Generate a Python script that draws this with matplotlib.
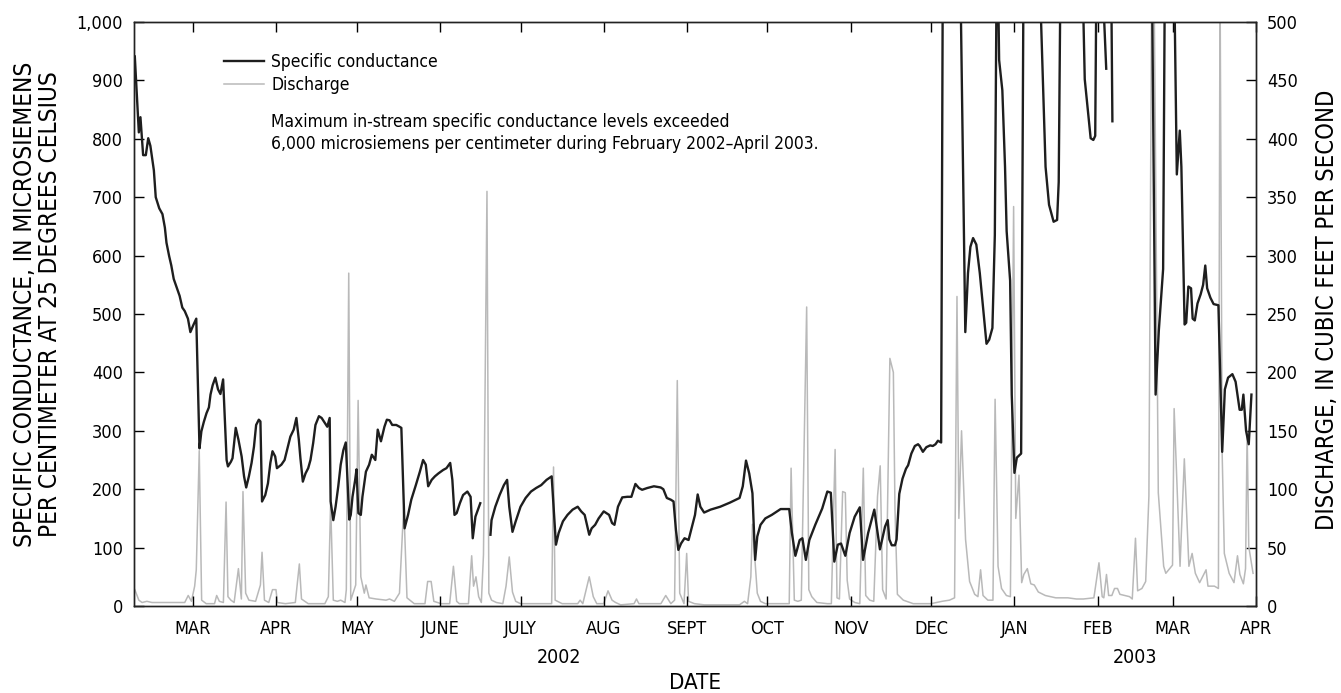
from datetime import datetime
import numpy as np
import matplotlib
matplotlib.use("Agg")
from matplotlib import pyplot as plt
import matplotlib.dates as mdates
from matplotlib.ticker import FuncFormatter, MultipleLocator
from matplotlib.transforms import blended_transform_factory

# days counted from 1 March 2002
base = datetime(2002, 3, 1)
nan = float("nan")

cond_day = [-21.7, -20.2, -19.6, -18.6, -17.6, -16.7, -15.9, -14.6, -13.9, -12.6, -11.4, -10.5,
            -9.9, -8.9, -8.1, -7.2, -6.2, -5.0, -4.0, -3.1, -1.9, -1.0, 0.2, 1.2,
            2.4, 3.1, 4.0, 5.0, 5.9, 6.5, 7.3, 8.3, 9.3, 10.2, 11.2, 12.5, 13.0, 14.1, 14.7,
            15.9, 16.9, 18.1, 19.0, 19.8, 20.8, 21.8, 22.7, 23.5, 24.5, 25.1, 25.7, 26.9,
            27.9, 28.8, 29.6, 30.6, 31.25, 32.9, 34.1, 35.0, 36.25, 37.5, 38.5, 39.4, 40.0,
            40.9, 41.9, 42.9, 43.75, 44.75, 45.6, 46.9, 47.9, 48.75, 50.0, 50.9, 51.25, 52.25,
            53.1, 54.1, 55.0, 56.0, 56.9, 58.2, 58.75, 59.4, 60.4, 60.9, 61.6, 62.5, 63.1,
            64.4, 65.6, 66.6, 67.9, 68.8, 70.0, 71.3, 72.2, 73.2, 74.2, 75.7, 76.9, 77.6,
            78.8, 80.1, 81.3, 83.0, 84.5, 85.7, 86.7, 87.6, 88.9, 90.1, 91.4, 93.2, 94.4,
            95.8, 96.6, 97.4, 98.2, 99.4, 100.6, 102.2, 103.4, 104.2, 105.2, 107.0, 109.0,
            110.8, 111.2, 112.6, 114.2, 115.8, 117.0, 117.8, 119.0, 120.2, 122.0, 123.9,
            125.9, 127.8, 129.7, 131.7, 133.6, 135.2, 136.2, 137.8, 139.5, 141.4, 143.3,
            144.6, 145.9, 147.6, 148.5, 149.8, 151.1, 153.0, 155.0, 156.1, 157.0, 158.3,
            159.9, 161.8, 163.3, 164.8, 166.1, 167.3, 169.2, 171.7, 174.2, 175.2, 176.5,
            178.0, 179.0, 179.9, 180.8, 181.8, 183.1, 184.6, 186.2, 187.0, 188.0, 189.0,
            190.4, 192.8, 196.4, 200.0, 203.6, 204.8, 206.0, 207.2, 208.4, 209.4, 210.2,
            211.4, 213.2, 215.6, 217.6, 218.9, 222.1, 223.1, 224.4, 226.0, 227.0, 228.3,
            229.6, 231.8, 234.4, 236.3, 237.6, 238.9, 240.2, 241.4, 243.0, 244.6, 246.5,
            248.4, 249.6, 251.5, 253.8, 255.9, 257.8, 258.8, 259.4, 260.3, 261.5, 262.1,
            263.1, 264.3, 265.6, 266.4, 267.6, 268.9, 270.1, 270.7, 271.9, 273.2, 274.6,
            275.6, 276.6, 277.5, 278.7, 279.4, 280.0, 285.5, 285.8, 287.7, 288.7, 289.6,
            290.6, 291.8, 293.1, 294.3, 295.6, 296.6, 297.8, 298.7, 299.4, 299.8, 300.3,
            301.5, 302.5, 303.1, 304.4, 305.0, 306.0, 306.9, 308.5, 309.4, 310.0, 315.4,
            315.6, 317.6, 318.9, 320.6, 321.9, 322.5, 323.1, 324.0, 331.0, 331.5, 332.2,
            333.5, 334.4, 335.4, 336.1, 336.5, 337.0, 338.8, 339.0, 340.2, 341.0, 342.1,
            342.5, 350.0, 357.2, 358.6, 359.8, 361.4, 362.0, 362.5, 365.3, 365.6, 366.5,
            367.6, 368.2, 369.4, 370.0, 370.8, 371.8, 372.4, 373.2, 374.2, 375.4, 376.3,
            377.1, 377.8, 379.0, 380.2, 382.0, 383.4, 384.4, 385.6, 387.2, 388.4, 389.9,
            390.7, 391.3, 392.3, 393.3, 394.3]
cond_val = [941, 811, 837, 772, 772, 801, 788, 746, 700, 681, 671, 648,
            622, 599, 583, 560, 547, 531, 511, 505, 492, 469, 482, 492,
            270, 299, 315, 330, 340, 362, 378, 391, 371, 363, 388, 250, 239, 247, 253,
            305, 285, 256, 222, 203, 222, 245, 273, 310, 319, 316, 179, 190,
            210, 245, 265, 256, 236, 242, 250, 267, 290, 302, 322, 285, 253,
            213, 227, 236, 250, 279, 310, 325, 322, 316, 307, 322, 179, 147,
            170, 205, 242, 267, 280, 148, 156, 187, 216, 234, 159, 156, 187,
            230, 242, 259, 250, 302, 282, 307, 319, 318, 310, 310, 307, 305,
            133, 156, 182, 207, 230, 250, 242, 205, 216, 222, 227, 233, 236,
            245, 216, 156, 159, 176, 190, 196, 187, 116, 153, 176, nan,
            122, 147, 170, 190, 207, 216, 170, 127, 145, 170, 185,
            196, 202, 207, 216, 222, 105, 125, 145, 156, 165, 170,
            162, 156, 122, 133, 139, 150, 162, 156, 142, 139, 170,
            186, 187, 187, 209, 202, 199, 202, 205, 203, 200, 185,
            182, 179, 130, 96, 107, 116, 113, 142, 156, 191, 170,
            160, 165, 170, 177, 185, 205, 249, 227, 193, 79, 119,
            139, 150, 156, 162, 166, 166, 125, 86, 113, 116, 79,
            113, 139, 167, 196, 194, 76, 105, 107, 86, 125, 153,
            169, 79, 125, 165, 97, 136, 147, 114, 104, 104, 114,
            192, 218, 235, 241, 261, 274, 277, 274, 264, 272, 275,
            274, 277, 283, 280, 1200, 3000, 3000, 1100, 469, 570, 615,
            630, 619, 570, 511, 449, 456, 476, 635, 1100, 1100, 935,
            883, 752, 642, 557, 362, 228, 254, 261, 1100, 3000, 3000,
            1050, 752, 687, 658, 661, 726, 1050, 3000, 3000, 1050, 902,
            843, 801, 798, 805, 1050, 3000, 3000, 1050, 920, nan, 1050,
            830, nan, 1100, 362, 472, 577, 1050, 3000, 3000, 1050, 739,
            814, 752, 482, 485, 547, 544, 492, 489, 518, 534, 550,
            583, 544, 528, 517, 515, 264, 371, 391, 397, 384, 336,
            336, 362, 300, 277, 362]

dis_day = [-21.7, -20.2, -19.0, -17.2, -15.3, -9.8, -3.1, -1.8, -0.6, 0.6, 1.2, 2.3, 3.2,
           4.9, 8.0, 8.8, 9.8, 11.3, 12.3, 13.0, 14.1, 15.3, 16.9, 18.0, 18.6, 19.6, 20.8,
           23.3, 25.1, 25.7, 26.6, 28.2, 29.6, 30.9, 31.4, 34.4, 38.1, 39.6, 40.4, 42.9,
           49.1, 50.4, 51.25, 52.25, 53.75, 55.0, 56.6, 57.1, 58.0, 58.75, 59.6, 60.6, 61.5,
           62.5, 63.8, 64.4, 65.6, 68.2, 71.9, 73.2, 75.0, 76.9, 78.5, 79.7, 82.4, 86.4,
           87.4, 88.7, 89.7, 92.4, 95.6, 97.0, 98.2, 99.2, 102.6, 103.8, 104.5, 105.4,
           106.4, 107.4, 108.2, 109.5, 110.2, 111.2, 113.0, 115.4, 116.6, 117.8, 119.0,
           120.2, 122.0, 133.6, 134.3, 134.9, 137.5, 143.3, 144.2, 145.2, 147.6, 149.1,
           150.4, 153.0, 154.6, 156.1, 157.4, 159.3, 164.3, 165.2, 166.1, 174.3, 176.1,
           178.0, 179.4, 180.4, 181.3, 182.9, 183.9, 184.6, 186.8, 190.4, 203.6, 205.4,
           206.6, 207.8, 208.4, 210.2, 211.4, 213.2, 222.1, 222.8, 224.0, 225.3, 226.6,
           228.6, 229.4, 230.5, 232.4, 236.3, 237.8, 239.2, 239.9, 240.8, 242.0, 243.0,
           243.7, 244.6, 246.5, 248.4, 249.7, 250.6, 252.1, 253.6, 255.0, 256.0, 256.9,
           258.2, 259.6, 260.9, 261.5, 262.4, 264.6, 268.3, 275.0, 279.0, 281.8, 283.7,
           284.6, 285.3, 286.3, 287.8, 289.3, 291.2, 292.4, 293.4, 294.3, 296.1, 298.0,
           298.8, 299.9, 301.2, 303.0, 304.5, 305.7, 306.5, 307.7, 308.7, 309.5, 310.8,
           312.1, 313.4, 314.9, 317.5, 321.4, 325.9, 329.1, 331.7, 335.6, 337.5, 338.7,
           339.3, 340.3, 341.1, 342.3, 343.3, 344.4, 345.3, 347.1, 348.9, 349.9, 351.1,
           351.9, 353.5, 354.9, 356.1, 357.2, 358.0, 359.6, 361.6, 362.4, 364.9, 365.5,
           367.7, 369.3, 371.0, 372.2, 373.4, 375.0, 377.4, 378.1, 380.5, 382.0, 382.6,
           383.4, 384.2, 386.0, 387.8, 389.1, 390.0, 391.3, 392.1, 392.7, 393.3, 394.9]
dis_val = [14, 5, 3, 4, 3, 3, 3, 9, 4, 17, 31, 133, 5,
           2, 2, 9, 4, 3, 89, 8, 5, 3, 32, 6, 98, 11, 5,
           4, 18, 46, 5, 3, 14, 14, 3, 2, 3, 36, 6, 2,
           2, 8, 88, 5, 4, 5, 3, 14, 285, 5, 11, 18, 176,
           25, 11, 18, 7, 6, 5, 6, 4, 11, 86, 7, 2, 2,
           21, 21, 4, 2, 2, 34, 4, 2, 2, 43, 17, 25,
           8, 3, 44, 355, 11, 5, 3, 2, 17, 42, 12,
           4, 2, 2, 119, 5, 2, 2, 5, 2, 25, 8,
           2, 2, 13, 5, 3, 1, 2, 6, 2, 2, 9,
           2, 5, 193, 11, 2, 45, 4, 2, 1, 1, 4,
           2, 25, 70, 11, 4, 2, 2, 118, 5, 4, 5,
           256, 14, 8, 3, 2, 2, 134, 7, 6, 98, 97,
           22, 6, 3, 2, 118, 9, 5, 4, 94, 120, 14,
           6, 212, 200, 83, 10, 5, 2, 2, 4, 5, 7,
           265, 75, 150, 57, 21, 10, 8, 31, 9, 5, 5,
           177, 34, 15, 9, 8, 342, 75, 112, 20, 27, 32,
           19, 18, 12, 9, 7, 7, 6, 6, 7, 37, 8,
           7, 27, 9, 9, 15, 15, 10, 9, 8, 6, 58,
           13, 15, 21, 94, 560, 540, 97, 34, 28, 35, 169,
           34, 126, 34, 45, 28, 20, 31, 17, 17, 15, 540,
           130, 45, 28, 20, 43, 27, 19, 32, 149, 51, 28]

month_ticks = [datetime(2002, m, 1) for m in range(3, 13)] + [datetime(2003, m, 1) for m in range(1, 5)]
month_labels = ["MAR", "APR", "MAY", "JUNE", "JULY", "AUG", "SEPT", "OCT", "NOV",
                "DEC", "JAN", "FEB", "MAR", "APR"]

plt.rcParams["font.family"] = ["DejaVu Sans"]
plt.rcParams["font.stretch"] = "condensed"
plt.rcParams["font.size"] = 13

t0 = mdates.date2num(base)
cx = t0 + np.array(cond_day)
dx = t0 + np.array(dis_day)

fig = plt.figure(figsize=(13.41, 6.93), dpi=100)
ax = fig.add_axes([134 / 1341, 87 / 693, 1122 / 1341, 584 / 693])
ax2 = ax.twinx()
ax.set_zorder(ax2.get_zorder() + 1)
ax.patch.set_visible(False)

l2, = ax2.plot(dx, dis_val, color="#b9b9b9", lw=1.1)
l1, = ax.plot(cx, cond_val, color="#1e1e1e", lw=1.7)

ax.set_xlim(t0 - 22, t0 + 396)
ax.set_ylim(0, 1000)
ax2.set_ylim(0, 500)
ax.yaxis.set_major_locator(MultipleLocator(100))
ax2.yaxis.set_major_locator(MultipleLocator(50))
ax.yaxis.set_major_formatter(FuncFormatter(lambda v, p: f"{int(v):,}"))
ax.set_xticks([mdates.date2num(d) for d in month_ticks])
ax.set_xticklabels(month_labels)

ax.tick_params(axis="x", direction="in", length=7.5, width=1, top=True, pad=10, labelsize=13)
ax.tick_params(axis="y", direction="in", length=7.5, width=1, pad=8, labelsize=13)
ax2.tick_params(axis="y", direction="in", length=7.5, width=1, pad=8, labelsize=13)
for a in (ax, ax2):
    for s in a.spines.values():
        s.set_linewidth(1.0)
        s.set_color("#222222")

ax.set_ylabel("SPECIFIC CONDUCTANCE, IN MICROSIEMENS\nPER CENTIMETER AT 25 DEGREES CELSIUS",
              fontsize=17.5, linespacing=1.05)
ax.yaxis.set_label_coords(-0.064, 0.517)
ax2.set_ylabel("DISCHARGE, IN CUBIC FEET PER SECOND", fontsize=17, rotation=90)
ax2.yaxis.set_label_coords(1.053, 0.507)

tr = blended_transform_factory(ax.transData, ax.transAxes)
ax.text(t0 + 136.5, -0.088, "2002", transform=tr, ha="center", va="center", fontsize=14)
ax.text(t0 + 351, -0.088, "2003", transform=tr, ha="center", va="center", fontsize=14)
ax.text(0.5, -0.132, "DATE", transform=ax.transAxes, ha="center", va="center", fontsize=16)

ax.legend([l1, l2], ["Specific conductance", "Discharge"], loc="upper left",
          bbox_to_anchor=(0.066, 0.973), frameon=False, handlelength=2.3,
          handletextpad=0.45, labelspacing=0.28, fontsize=12.5)
ax.text(0.122, 0.845, "Maximum in-stream specific conductance levels exceeded\n"
        "6,000 microsiemens per centimeter during February 2002\u2013April 2003.",
        transform=ax.transAxes, ha="left", va="top", fontsize=12.5, linespacing=1.3)

fig.savefig("out.png", dpi=100)
